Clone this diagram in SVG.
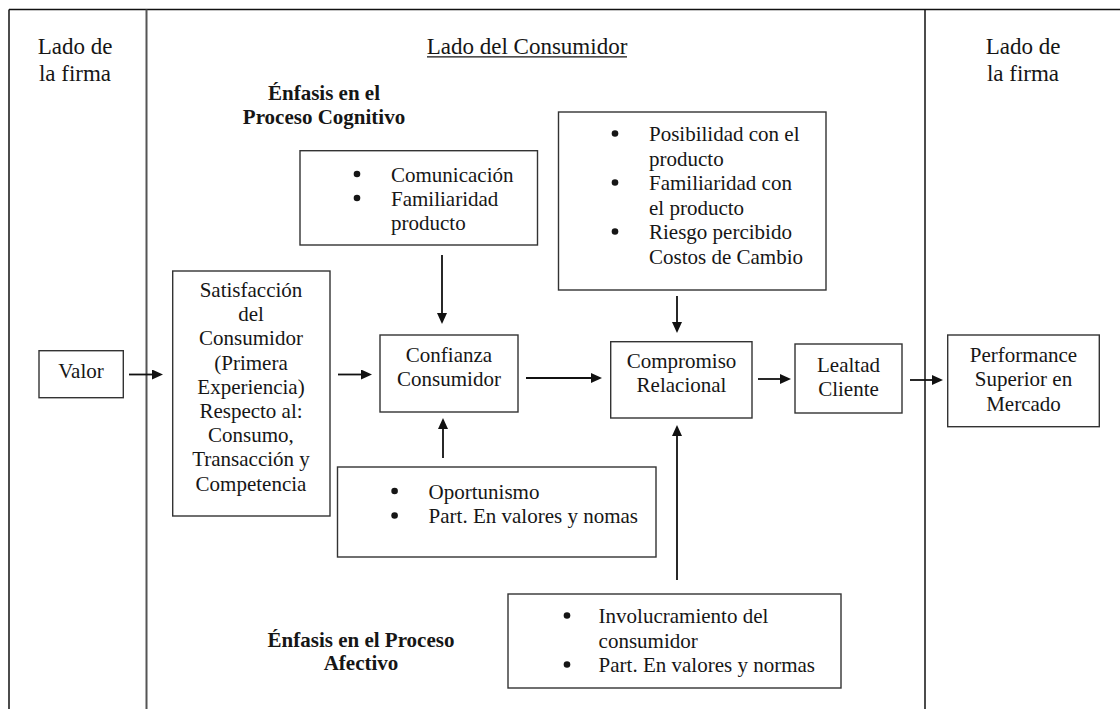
<svg xmlns="http://www.w3.org/2000/svg" width="1120" height="709" viewBox="0 0 1120 709">
<defs>
<marker id="ah" viewBox="0 0 11 10" refX="8" refY="5" markerWidth="11" markerHeight="10" markerUnits="userSpaceOnUse" orient="auto">
<path d="M0,0 L11,5 L0,10 z" fill="#111"/>
</marker>
<style>
text{font-family:"Liberation Serif","Times New Roman",serif;fill:#161616;}
.h{font-size:23px;text-anchor:middle;}
.t{font-size:21px;}
.c{font-size:21px;text-anchor:middle;}
.b{font-size:21px;font-weight:bold;text-anchor:middle;}
.dot{fill:#161616;}
.box{fill:#fff;stroke:#333;stroke-width:1.4;}
.frame{stroke:#111;stroke-width:1.5;fill:none;}
.arr{stroke:#111;stroke-width:1.8;fill:none;marker-end:url(#ah);}
</style>
</defs>
<rect width="1120" height="709" fill="#fff"/>
<g id="frame">
<line class="frame" x1="9" y1="9.5" x2="1120" y2="9.5"/>
<line class="frame" x1="9" y1="9.5" x2="9" y2="709"/>
<line x1="146.5" y1="9.5" x2="146.5" y2="709" stroke="#555" stroke-width="2"/>
<line class="frame" x1="925" y1="9.5" x2="925" y2="709"/>
</g>
<g id="headers">
<text class="h" x="75" y="54">Lado de</text>
<text class="h" x="75" y="80.5">la firma</text>
<text class="h" x="1023" y="54">Lado de</text>
<text class="h" x="1023" y="80.5">la firma</text>
<text class="h" x="527" y="53.5">Lado del Consumidor</text>
<line x1="427" y1="56.8" x2="627" y2="56.8" stroke="#161616" stroke-width="1.2"/>
<text class="b" x="324" y="100">Énfasis en el</text>
<text class="b" x="324" y="123.5">Proceso Cognitivo</text>
<text class="b" x="361" y="646.5">Énfasis en el Proceso</text>
<text class="b" x="361" y="670">Afectivo</text>
</g>
<g id="connectors">
<line class="arr" x1="129" y1="374.5" x2="160" y2="374.5"/>
<line class="arr" x1="338" y1="374.5" x2="369" y2="374.5"/>
<line class="arr" x1="526" y1="378" x2="599" y2="378"/>
<line class="arr" x1="758" y1="379" x2="788" y2="379"/>
<line class="arr" x1="910" y1="380" x2="940" y2="380"/>
<line class="arr" x1="442" y1="255" x2="442" y2="321"/>
<line class="arr" x1="677" y1="296" x2="677" y2="330"/>
<line class="arr" x1="443" y1="458" x2="443" y2="421"/>
<line class="arr" x1="677" y1="580" x2="677" y2="428"/>
</g>
<g id="valor">
<rect class="box" x="39" y="350.7" width="84.3" height="47"/>
<text class="c" x="81" y="378">Valor</text>
</g>
<g id="satisfaccion">
<rect class="box" x="172.7" y="271" width="157.3" height="245"/>
<text class="c" x="251" y="297">Satisfacción</text>
<text class="c" x="251" y="321.2">del</text>
<text class="c" x="251" y="345.4">Consumidor</text>
<text class="c" x="251" y="369.6">(Primera</text>
<text class="c" x="251" y="393.8">Experiencia)</text>
<text class="c" x="251" y="418">Respecto al:</text>
<text class="c" x="251" y="442.2">Consumo,</text>
<text class="c" x="251" y="466.4">Transacción y</text>
<text class="c" x="251" y="490.6">Competencia</text>
</g>
<g id="comunicacion">
<rect class="box" x="300" y="150.7" width="237.5" height="94.3"/>
<circle class="dot" cx="357" cy="174" r="3.3"/>
<text class="t" x="391" y="181.5">Comunicación</text>
<circle class="dot" cx="357" cy="198" r="3.3"/>
<text class="t" x="391" y="205.5">Familiaridad</text>
<text class="t" x="391" y="229.5">producto</text>
</g>
<g id="confianza">
<rect class="box" x="380" y="335" width="138" height="77"/>
<text class="c" x="449" y="362">Confianza</text>
<text class="c" x="449" y="386">Consumidor</text>
</g>
<g id="oportunismo">
<rect class="box" x="337.5" y="467" width="318.5" height="90"/>
<circle class="dot" cx="394.6" cy="491" r="3.3"/>
<text class="t" x="428.6" y="498.5">Oportunismo</text>
<circle class="dot" cx="394.6" cy="515.5" r="3.3"/>
<text class="t" x="428.6" y="523">Part. En valores y nomas</text>
</g>
<g id="posibilidad">
<rect class="box" x="558.5" y="112" width="267.5" height="178"/>
<circle class="dot" cx="615" cy="133.5" r="3.3"/>
<text class="t" x="649" y="141">Posibilidad con el</text>
<text class="t" x="649" y="165.5">producto</text>
<circle class="dot" cx="615" cy="182.5" r="3.3"/>
<text class="t" x="649" y="190">Familiaridad con</text>
<text class="t" x="649" y="214.5">el producto</text>
<circle class="dot" cx="615" cy="231.5" r="3.3"/>
<text class="t" x="649" y="239">Riesgo percibido</text>
<text class="t" x="649" y="263.5">Costos de Cambio</text>
</g>
<g id="compromiso">
<rect class="box" x="610.7" y="341.7" width="141.3" height="76.3"/>
<text class="c" x="681.5" y="368">Compromiso</text>
<text class="c" x="681.5" y="392">Relacional</text>
</g>
<g id="lealtad">
<rect class="box" x="795" y="344" width="107" height="69"/>
<text class="c" x="848.5" y="372">Lealtad</text>
<text class="c" x="848.5" y="395.5">Cliente</text>
</g>
<g id="performance">
<rect class="box" x="947.7" y="335" width="151.6" height="91.7"/>
<text class="c" x="1023.5" y="361.5">Performance</text>
<text class="c" x="1023.5" y="386">Superior en</text>
<text class="c" x="1023.5" y="410.5">Mercado</text>
</g>
<g id="involucramiento">
<rect class="box" x="508" y="594" width="333" height="94"/>
<circle class="dot" cx="567" cy="615.5" r="3.3"/>
<text class="t" x="598.6" y="623">Involucramiento del</text>
<text class="t" x="598.6" y="647.5">consumidor</text>
<circle class="dot" cx="567" cy="664.5" r="3.3"/>
<text class="t" x="598.6" y="672">Part. En valores y normas</text>
</g>
</svg>
